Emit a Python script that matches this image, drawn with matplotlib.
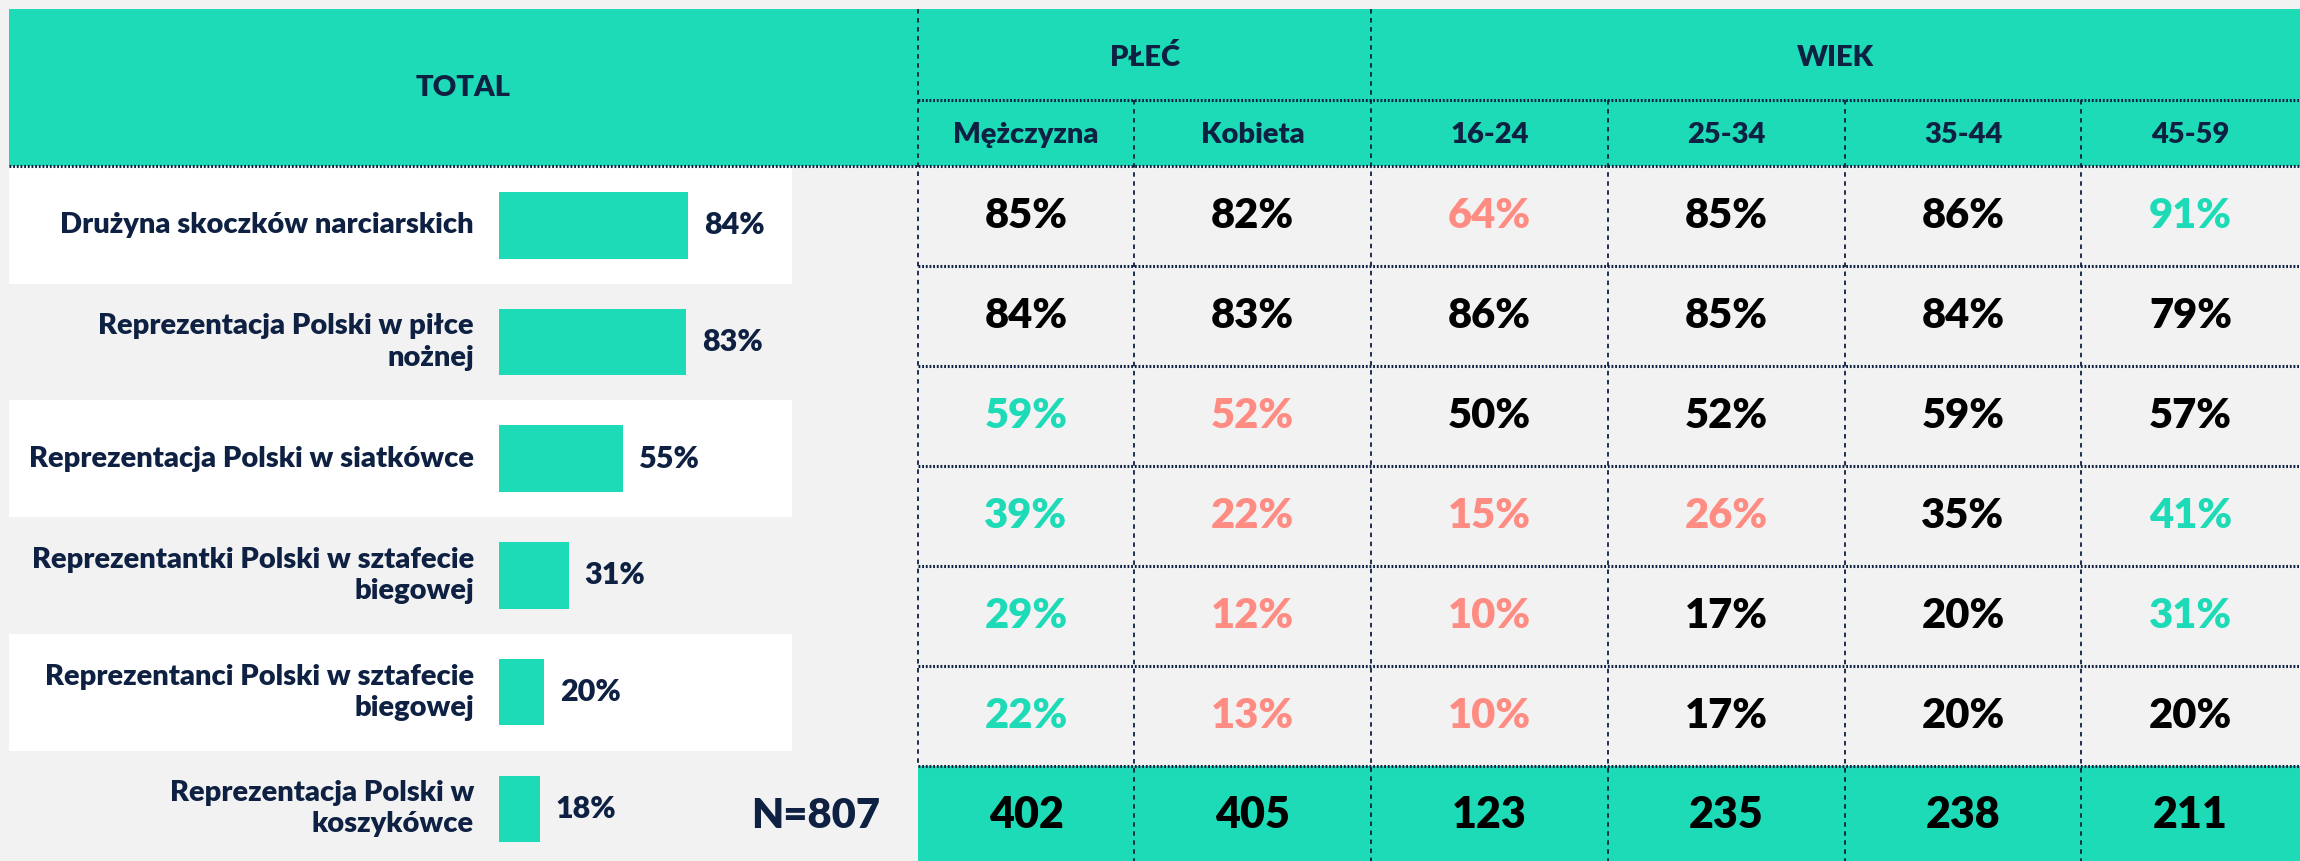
import matplotlib
matplotlib.use("Agg")
import matplotlib.pyplot as plt
from matplotlib.patches import Rectangle

# ---------------- data ----------------
categories = [
    "Drużyna skoczków narciarskich",
    "Reprezentacja Polski w piłce\nnożnej",
    "Reprezentacja Polski w siatkówce",
    "Reprezentantki Polski w sztafecie\nbiegowej",
    "Reprezentanci Polski w sztafecie\nbiegowej",
    "Reprezentacja Polski w\nkoszykówce",
]
total_values = [84, 83, 55, 31, 20, 18]

group_labels = ["PŁEĆ", "WIEK"]
group_spans = [(0, 2), (2, 6)]
column_labels = ["Mężczyzna", "Kobieta", "16-24", "25-34", "35-44", "45-59"]

table_values = [
    [85, 82, 64, 85, 86, 91],
    [84, 83, 86, 85, 84, 79],
    [59, 52, 50, 52, 59, 57],
    [39, 22, 15, 26, 35, 41],
    [29, 12, 10, 17, 20, 31],
    [22, 13, 10, 17, 20, 20],
]
# significance: 'h' higher (teal), 'l' lower (salmon), 'n' neutral
table_sig = [
    ["n", "n", "l", "n", "n", "h"],
    ["n", "n", "n", "n", "n", "n"],
    ["h", "l", "n", "n", "n", "n"],
    ["h", "l", "l", "l", "n", "h"],
    ["h", "l", "l", "n", "n", "h"],
    ["h", "l", "l", "n", "n", "n"],
]
base_total = 807
base_columns = [402, 405, 123, 235, 238, 211]

# ---------------- style ----------------
TEAL = "#1EDBB8"
SALMON = "#FF8C82"
NAVY = "#0E2142"
BG = "#F2F2F2"
FONT = "Lato"
sig_color = {"h": TEAL, "l": SALMON, "n": "#000000"}

W, H = 2300, 861
fig = plt.figure(figsize=(W / 100, H / 100), dpi=100, facecolor=BG)
ax = fig.add_axes([0, 0, 1, 1])
ax.set_xlim(0, W)
ax.set_ylim(H, 0)
ax.axis("off")
ax.set_facecolor(BG)

# layout (pixels)
hdr_top, sub_top, hdr_bot = 9, 100, 166
left_x0, left_x1 = 9, 792
col_edges = [918, 1134, 1371, 1608, 1845, 2081, 2300]
row_h = 100
n_rows = len(table_values)
table_bot = hdr_bot + n_rows * row_h  # 766
left_row_h = 116.7

# header
ax.add_patch(Rectangle((left_x0, hdr_top), W - left_x0, hdr_bot - hdr_top,
                       facecolor=TEAL, edgecolor="none", zorder=1))
# left white bands
for i in range(len(categories)):
    if i % 2 == 0:
        y0 = hdr_bot + 1 + i * left_row_h
        ax.add_patch(Rectangle((left_x0, y0), left_x1 - left_x0, left_row_h,
                               facecolor="white", edgecolor="none", zorder=1))
# bottom teal base row
ax.add_patch(Rectangle((col_edges[0], table_bot), W - col_edges[0], H - table_bot,
                       facecolor=TEAL, edgecolor="none", zorder=1))

HDR_FS = 21
# header texts
ax.text((left_x0 + col_edges[0]) / 2, (hdr_top + hdr_bot) / 2, "TOTAL",
        ha="center", va="center", fontsize=HDR_FS, fontweight="heavy",
        color=NAVY, family=FONT, zorder=3)
for lab, (a, b) in zip(group_labels, group_spans):
    ax.text((col_edges[a] + col_edges[b]) / 2, (hdr_top + sub_top) / 2 + 3, lab,
            ha="center", va="center", fontsize=HDR_FS, fontweight="heavy",
            color=NAVY, family=FONT, zorder=3)
for j, lab in enumerate(column_labels):
    ax.text((col_edges[j] + col_edges[j + 1]) / 2, (sub_top + hdr_bot) / 2 + 2, lab,
            ha="center", va="center", fontsize=HDR_FS, fontweight="heavy",
            color=NAVY, family=FONT, zorder=3)

# table values
for i, row in enumerate(table_values):
    yc = hdr_bot + (i + 0.5) * row_h
    for j, v in enumerate(row):
        ax.text((col_edges[j] + col_edges[j + 1]) / 2, yc, f"{v}%",
                ha="center", va="center", fontsize=30, fontweight="heavy",
                color=sig_color[table_sig[i][j]], family=FONT, zorder=3)

# base row
yb = (table_bot + H) / 2 + 2
for j, n in enumerate(base_columns):
    ax.text((col_edges[j] + col_edges[j + 1]) / 2, yb, f"{n}",
            ha="center", va="center", fontsize=31, fontweight="heavy",
            color="#000000", family=FONT, zorder=3)
ax.text(880, yb, f"N={base_total}", ha="right", va="center", fontsize=30,
        fontweight="heavy", color=NAVY, family=FONT, zorder=3)

# dotted lines
hkw = dict(color=NAVY, lw=2.2, ls=(0, (0.6, 0.6)), zorder=4)
vkw = dict(color=NAVY, lw=1.3, ls=(0, (2.5, 2.5)), zorder=4)
ax.plot([left_x0, W], [hdr_bot, hdr_bot], **hkw)
ax.plot([col_edges[0], W], [sub_top, sub_top], **hkw)
for i in range(1, n_rows + 1):
    y = hdr_bot + i * row_h
    ax.plot([col_edges[0], W], [y, y], **hkw)
ax.plot([col_edges[0], col_edges[0]], [hdr_top, table_bot], **vkw)
ax.plot([col_edges[2], col_edges[2]], [hdr_top, H], **vkw)
for j in (1, 3, 4, 5):
    ax.plot([col_edges[j], col_edges[j]], [sub_top, H], **vkw)

# left labels
for i, lab in enumerate(categories):
    yc = hdr_bot + 1 + (i + 0.5) * left_row_h
    ax.text(474, yc, lab, ha="right", va="center", multialignment="right",
            fontsize=21, fontweight="heavy", color=NAVY, family=FONT,
            linespacing=1.25, zorder=3)

# bars (own axes: 0..100 %)
bar_left = 499
bar_full = 225  # px for 100%
y_top = hdr_bot + 1
y_bottom = y_top + len(categories) * left_row_h
bax = fig.add_axes([bar_left / W, (H - y_bottom) / H, bar_full / W,
                    (y_bottom - y_top) / H])
bax.set_xlim(0, 100)
bax.set_ylim(len(categories) - 0.5, -0.5)
bax.axis("off")
bax.patch.set_alpha(0)
ypos = list(range(len(categories)))
bax.barh(ypos, total_values, height=0.57, color=TEAL, zorder=3)
for yi, v in zip(ypos, total_values):
    bax.annotate(f"{v}%", (v, yi), xytext=(11.5, 0), textcoords="offset points",
                 ha="left", va="center", fontsize=22, fontweight="heavy",
                 color=NAVY, family=FONT, annotation_clip=False)

fig.savefig("out.png", dpi=100, facecolor=BG)
